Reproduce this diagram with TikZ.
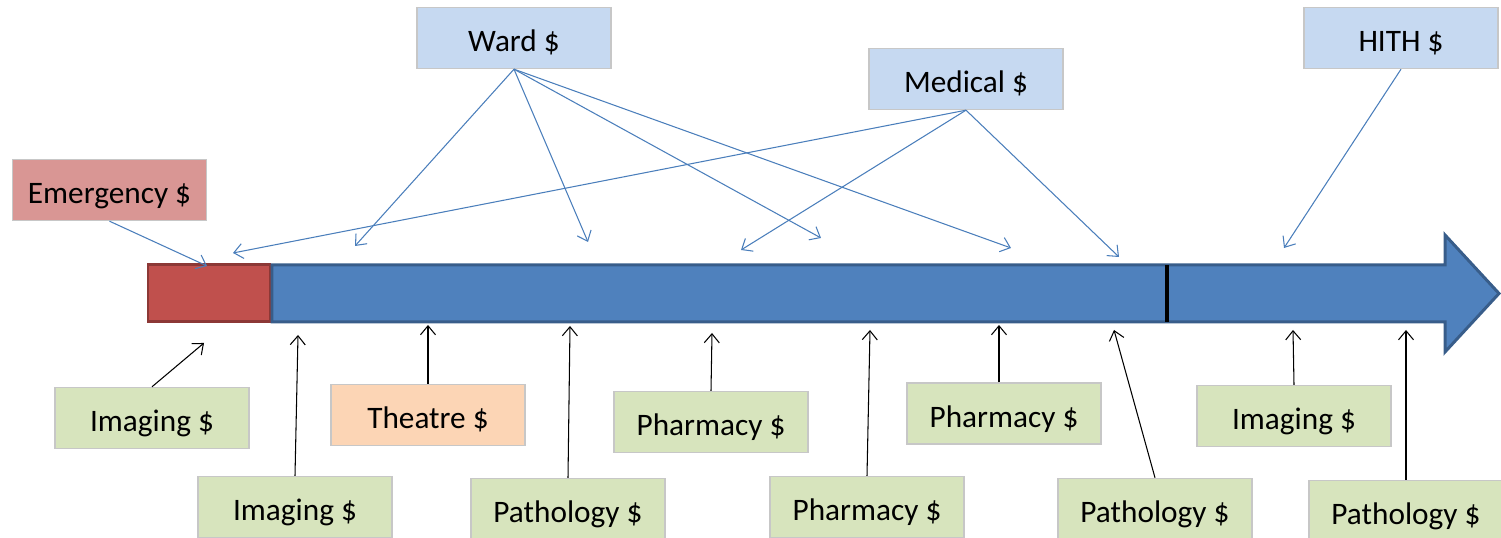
\documentclass[tikz,border=0pt]{standalone}
\usepackage{fontspec}
\setmainfont{Carlito}
\usetikzlibrary{arrows.meta}
\definecolor{topcost}{RGB}{198,217,241}
\definecolor{emcost}{RGB}{217,150,148}
\definecolor{sidecost}{RGB}{215,228,189}
\definecolor{theatrecost}{RGB}{252,213,181}
\definecolor{staybody}{RGB}{79,129,189}
\definecolor{stayline}{RGB}{56,93,138}
\definecolor{emfill}{RGB}{192,80,77}
\definecolor{emline}{RGB}{140,56,54}
\definecolor{feedblue}{RGB}{74,126,187}
\tikzset{
  cost/.style={draw=black!22, line width=0.4pt, minimum width=1.94cm,
    minimum height=0.61cm, inner sep=0pt, text height=0.78em, text depth=0pt,
    font=\fontsize{8.9}{10}\selectfont},
  feed/.style={-{Straight Barb[length=0.9mm,width=1.5mm]}, line width=0.3pt},
}
\begin{document}
\begin{tikzpicture}
  \useasboundingbox (0,0) rectangle (15.01,5.38);
  % the stay
  \filldraw[fill=emfill, draw=emline, line width=0.85pt] (1.48,2.16) rectangle (2.70,2.73);
  \filldraw[fill=staybody, draw=stayline, line width=0.85pt]
    (2.72,2.16) -- (14.45,2.16) -- (14.45,1.86) -- (14.99,2.445)
    -- (14.45,3.03) -- (14.45,2.73) -- (2.72,2.73) -- cycle;
  \draw[line width=1.1pt] (11.67,2.16) -- (11.67,2.73);
  % cost boxes
  \draw
    (1.095,3.48) node[cost, fill=emcost] (emergency){Emergency \$}
    (5.14,5.00) node[cost, fill=topcost] (ward){Ward \$}
    (9.66,4.59) node[cost, fill=topcost] (medical){Medical \$}
    (14.01,5.00) node[cost, fill=topcost] (hith){HITH \$}
    (1.52,1.20) node[cost, fill=sidecost] (imaging1){Imaging \$}
    (4.28,1.23) node[cost, fill=theatrecost] (theatre){Theatre \$}
    (7.11,1.16) node[cost, fill=sidecost] (pharmacy1){Pharmacy \$}
    (10.04,1.245) node[cost, fill=sidecost] (pharmacy2){Pharmacy \$}
    (12.94,1.22) node[cost, fill=sidecost] (imaging3){Imaging \$}
    (2.95,0.31) node[cost, fill=sidecost] (imaging2){Imaging \$}
    (5.68,0.29) node[cost, fill=sidecost] (pathology1){Pathology \$}
    (8.67,0.31) node[cost, fill=sidecost] (pharmacy3){Pharmacy \$}
    (11.55,0.29) node[cost, fill=sidecost] (pathology2){Pathology \$}
    (14.06,0.27) node[cost, fill=sidecost] (pathology3){Pathology \$};
  % where the costs land
  \coordinate (e1) at (2.07,2.72);
  \coordinate (w1) at (3.55,2.92);
  \coordinate (w2) at (5.88,2.96);
  \coordinate (w3) at (8.21,3.00);
  \coordinate (w4) at (10.11,2.90);
  \coordinate (m1) at (2.33,2.85);
  \coordinate (m2) at (7.41,2.88);
  \coordinate (m3) at (11.19,2.81);
  \coordinate (h1) at (12.84,2.90);
  \coordinate (i1) at (2.04,1.95);
  \coordinate (i2) at (2.98,2.03);
  \coordinate (t1) at (4.28,2.13);
  \coordinate (pa1) at (5.70,2.12);
  \coordinate (ph1) at (7.12,2.05);
  \coordinate (ph3) at (8.70,2.08);
  \coordinate (ph2) at (9.99,2.13);
  \coordinate (pa2) at (11.14,2.08);
  \coordinate (i3) at (12.93,2.08);
  \coordinate (pa3) at (14.06,2.08);
  \begin{scope}[feed, feedblue]
    \draw (emergency.south) to (e1);
    \draw (ward.south) to (w1);
    \draw (ward.south) to (w2);
    \draw (ward.south) to (w3);
    \draw (ward.south) to (w4);
    \draw (medical.south) to (m1);
    \draw (medical.south) to (m2);
    \draw (medical.south) to (m3);
    \draw (hith.south) to (h1);
  \end{scope}
  \begin{scope}[feed, black]
    \draw (imaging1.north) to (i1);
    \draw (imaging2.north) to (i2);
    \draw (theatre.north) to (t1);
    \draw (pathology1.north) to (pa1);
    \draw (pharmacy1.north) to (ph1);
    \draw (pharmacy3.north) to (ph3);
    \draw (pharmacy2.north -| ph2) to (ph2);
    \draw (pathology2.north) to (pa2);
    \draw (imaging3.north) to (i3);
    \draw (pathology3.north) to (pa3);
  \end{scope}
\end{tikzpicture}
\end{document}
